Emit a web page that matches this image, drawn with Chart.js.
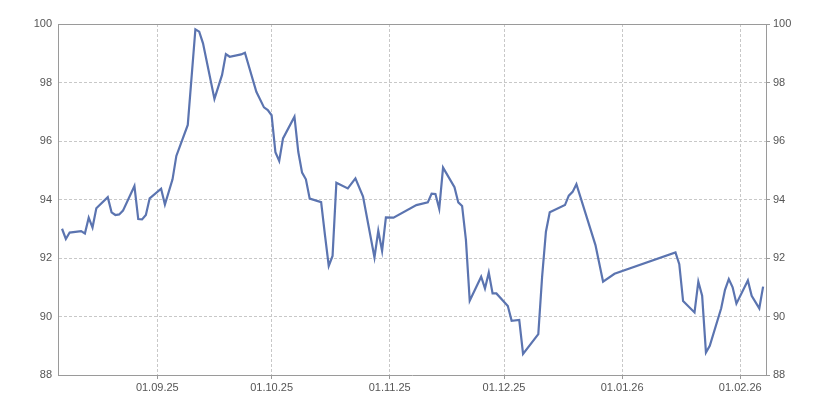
<!DOCTYPE html>
<html>
<head>
<meta charset="utf-8">
<script src="https://cdn.jsdelivr.net/npm/chart.js@4.4.1/dist/chart.umd.min.js"></script>
<style>
html,body{margin:0;padding:0;background:#fff;}
#wrap{width:825px;height:400px;position:relative;}
</style>
</head>
<body>
<div id="wrap"><canvas id="c" width="825" height="400"></canvas></div>
<script>
const dates = [
 "2025-08-07","2025-08-08","2025-08-09","2025-08-12","2025-08-13","2025-08-14","2025-08-15","2025-08-16",
 "2025-08-19","2025-08-20","2025-08-21","2025-08-22","2025-08-23","2025-08-26","2025-08-27","2025-08-28",
 "2025-08-29","2025-08-30","2025-09-02","2025-09-03","2025-09-05","2025-09-06","2025-09-09","2025-09-11",
 "2025-09-12","2025-09-13","2025-09-16","2025-09-18","2025-09-19","2025-09-20","2025-09-23","2025-09-24",
 "2025-09-27","2025-09-29","2025-09-30","2025-10-01","2025-10-02","2025-10-03","2025-10-04","2025-10-07",
 "2025-10-08","2025-10-09","2025-10-10","2025-10-11","2025-10-14","2025-10-15","2025-10-16","2025-10-17",
 "2025-10-18","2025-10-21","2025-10-23","2025-10-25","2025-10-28","2025-10-29","2025-10-30","2025-10-31",
 "2025-11-02","2025-11-08","2025-11-11","2025-11-12","2025-11-13","2025-11-14","2025-11-15","2025-11-18",
 "2025-11-19","2025-11-20","2025-11-21","2025-11-22","2025-11-25","2025-11-26","2025-11-27","2025-11-28",
 "2025-11-29","2025-12-02","2025-12-03","2025-12-05","2025-12-06","2025-12-10","2025-12-11","2025-12-12",
 "2025-12-13","2025-12-17","2025-12-18","2025-12-19","2025-12-20","2025-12-25","2025-12-27","2025-12-30",
 "2026-01-15","2026-01-16","2026-01-17","2026-01-20","2026-01-21","2026-01-22","2026-01-23","2026-01-24",
 "2026-01-27","2026-01-28","2026-01-29","2026-01-30","2026-01-31","2026-02-03","2026-02-04","2026-02-06",
 "2026-02-07"
];
const values = [
 93.00,92.65,92.87,92.92,92.84,93.38,93.04,93.70,
 94.08,93.56,93.47,93.49,93.62,94.46,93.33,93.32,
 93.47,94.04,94.37,93.83,94.69,95.49,96.55,99.82,
 99.74,99.34,97.44,98.26,98.97,98.88,98.96,99.02,
 97.68,97.15,97.06,96.88,95.62,95.32,96.09,96.83,
 95.63,94.92,94.69,94.03,93.91,92.79,91.73,92.07,
 94.57,94.38,94.72,94.10,92.02,92.93,92.24,93.39,
 93.38,93.81,93.90,94.20,94.19,93.68,95.09,94.42,
 93.90,93.78,92.62,90.54,91.36,90.96,91.50,90.79,
 90.79,90.36,89.85,89.88,88.72,89.40,91.36,92.90,
 93.56,93.81,94.13,94.26,94.52,92.44,91.19,91.46,
 92.19,91.79,90.53,90.14,91.19,90.71,88.77,89.00,
 90.28,90.91,91.28,91.00,90.44,91.23,90.71,90.28,
 91.02
];
const xTickDates = ["2025-09-01","2025-10-01","2025-11-01","2025-12-01","2026-01-01","2026-02-01"];
const yTicks = [88, 90, 92, 94, 96, 98, 100];
const xRange = ["2025-08-06", "2026-02-07"];

const DAY = 86400000;
const toDay = s => Date.parse(s + "T00:00:00Z") / DAY;
const fmt = d => {
  const dt = new Date(d * DAY);
  const p = n => String(n).padStart(2, "0");
  return p(dt.getUTCDate()) + "." + p(dt.getUTCMonth() + 1) + "." + String(dt.getUTCFullYear()).slice(2);
};

const pts = dates.map((d, i) => ({x: toDay(d), y: values[i]}));
const font = {family: "'Liberation Sans', Arial, sans-serif", size: 11};
const txt = "#555";
const gridC = "#c8c8c8";
const axisC = "#9a9a9a";

const frame = {
  id: "frame",
  afterDatasetsDraw(chart) {
    const a = chart.chartArea, ctx = chart.ctx;
    ctx.save();
    ctx.strokeStyle = axisC;
    ctx.lineWidth = 1;
    ctx.setLineDash([]);
    ctx.beginPath();
    ctx.moveTo(a.left, a.top + 0.5);
    ctx.lineTo(a.right, a.top + 0.5);
    ctx.stroke();
    ctx.restore();
  }
};

new Chart(document.getElementById("c"), {
  type: "line",
  data: {
    datasets: [{
      data: pts,
      borderColor: "#5b74b0",
      borderWidth: 2.2,
      pointRadius: 0,
      tension: 0,
      fill: false
    }]
  },
  options: {
    responsive: false,
    animation: false,
    layout: {padding: {top: 24, left: 0, right: 0, bottom: 0}},
    plugins: {legend: {display: false}, tooltip: {enabled: false}},
    scales: {
      x: {
        type: "linear",
        min: toDay(xRange[0]) - 0.06,
        max: toDay(xRange[1]) + 0.76,
        afterBuildTicks: s => { s.ticks = xTickDates.map(d => ({value: toDay(d)})); },
        afterFit: s => { s.height = 25; },
        ticks: {callback: v => fmt(v), font, color: txt, padding: 2, maxRotation: 0, autoSkip: false},
        grid: {color: gridC, tickLength: 4, tickColor: axisC, tickBorderDash: [], drawTicks: true},
        border: {color: axisC, width: 1, dash: [3, 2]}
      },
      y: {
        position: "left",
        min: 88, max: 100,
        afterBuildTicks: s => { s.ticks = yTicks.map(v => ({value: v})); },
        afterFit: s => { s.width = 58; },
        ticks: {font, color: txt, padding: 6},
        grid: {color: gridC, drawTicks: false},
        border: {color: axisC, width: 1, dash: [3, 2]}
      },
      y2: {
        position: "right",
        min: 88, max: 100,
        afterBuildTicks: s => { s.ticks = yTicks.map(v => ({value: v})); },
        afterFit: s => { s.width = 59; },
        ticks: {font, color: txt, padding: 3},
        grid: {drawOnChartArea: false, drawTicks: true, tickLength: 4, color: axisC},
        border: {color: axisC, width: 1}
      }
    }
  },
  plugins: [frame]
});
</script>
</body>
</html>
